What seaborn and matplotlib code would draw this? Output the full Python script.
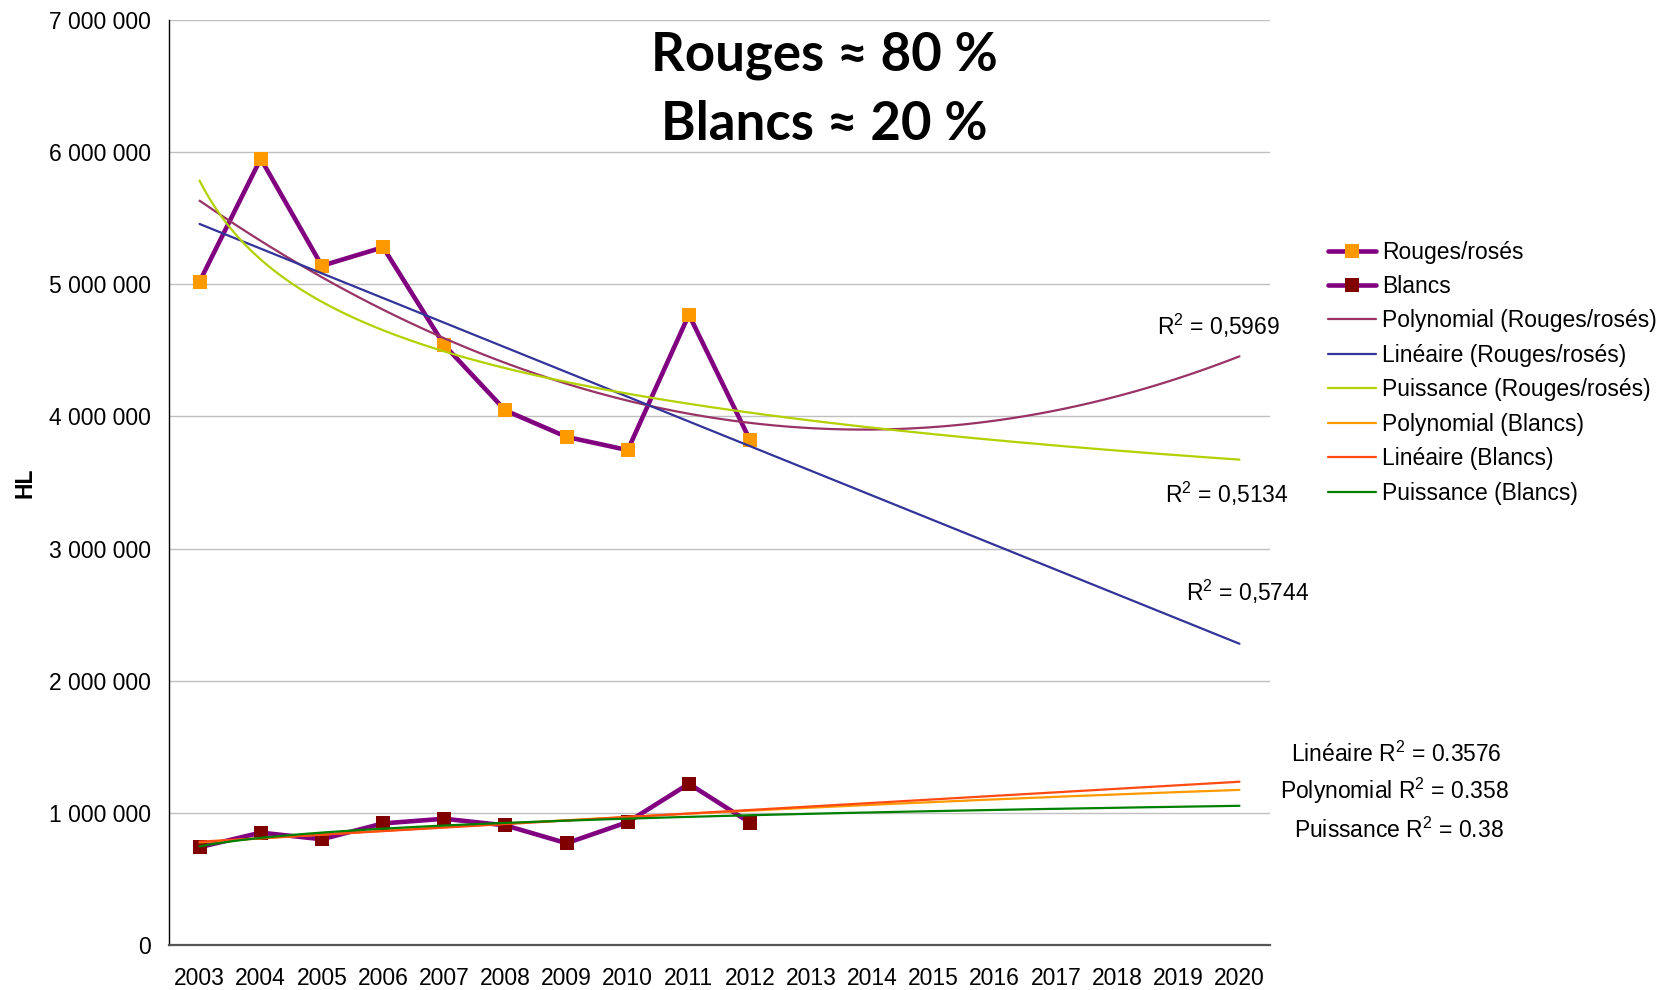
import numpy as np
import pandas as pd
import seaborn as sns
import matplotlib.pyplot as plt
from matplotlib.ticker import FixedLocator, FuncFormatter

# ---------- DATA ----------
years = [str(y) for y in range(2003, 2021)]
obs_years = years[:10]
rouges = [5020000, 5950000, 5140000, 5280000, 4540000, 4045000, 3845000, 3745000, 4770000, 3820000]
blancs = [740000, 850000, 800000, 920000, 955000, 905000, 770000, 930000, 1220000, 925000]
y_ticks = [0, 1000000, 2000000, 3000000, 4000000, 5000000, 6000000, 7000000]

title_lines = ["Rouges \u2248 80 %", "Blancs \u2248 20 %"]
r2_rouges = ["R$^2$ = 0,5969", "R$^2$ = 0,5134", "R$^2$ = 0,5744"]
r2_blancs = ["Lin\u00e9aire R$^2$ = 0.3576", "Polynomial R$^2$ = 0.358", "Puissance R$^2$ = 0.38"]

# ---------- STYLE ----------
sns.set_style("white")
plt.rcParams["font.family"] = ["Liberation Sans", "DejaVu Sans"]
plt.rcParams["mathtext.fontset"] = "custom"
plt.rcParams["mathtext.rm"] = "Liberation Sans"
plt.rcParams["mathtext.default"] = "regular"
for k in ["text.color", "axes.labelcolor", "xtick.color", "ytick.color"]:
    plt.rcParams[k] = "black"
FS = 16.5

# ---------- TRENDLINES (Excel style, x = 1..n) ----------
x_obs = np.arange(1, len(obs_years) + 1)
x_fine = np.linspace(1, len(years), 300)


def trends(y):
    y = np.asarray(y, dtype=float)
    lin = np.polyval(np.polyfit(x_obs, y, 1), x_fine)
    poly = np.polyval(np.polyfit(x_obs, y, 2), x_fine)
    b, ln_a = np.polyfit(np.log(x_obs), np.log(y), 1)
    power = np.exp(ln_a) * x_fine ** b
    return poly, lin, power


poly_r, lin_r, pow_r = trends(rouges)
poly_b, lin_b, pow_b = trends(blancs)

# ---------- PLOT ----------
fig = plt.figure(figsize=(16.63, 9.90), dpi=100)
ax = fig.add_axes([0.1016, 0.0455, 0.6621, 0.9343])

idx = np.arange(len(obs_years))
sns.lineplot(x=idx, y=rouges, ax=ax, color="#800080", lw=3.3, marker="s", markersize=10.5,
             markerfacecolor="#FF9900", markeredgewidth=0, label="Rouges/ros\u00e9s", zorder=3)
sns.lineplot(x=idx, y=blancs, ax=ax, color="#800080", lw=3.3, marker="s", markersize=10.5,
             markerfacecolor="#800000", markeredgewidth=0, label="Blancs", zorder=3)

trend_specs = [
    (poly_r, "#993366", "Polynomial (Rouges/ros\u00e9s)"),
    (lin_r, "#333399", "Lin\u00e9aire (Rouges/ros\u00e9s)"),
    (pow_r, "#B3D100", "Puissance (Rouges/ros\u00e9s)"),
    (poly_b, "#FF9900", "Polynomial (Blancs)"),
    (lin_b, "#FF4A12", "Lin\u00e9aire (Blancs)"),
    (pow_b, "#008000", "Puissance (Blancs)"),
]
for vals, col, lab in trend_specs:
    sns.lineplot(x=x_fine - 1, y=vals, ax=ax, color=col, lw=1.6, label=lab, zorder=4)

# axes
ax.set_xlim(-0.5, len(years) - 0.5)
ax.set_ylim(0, 7000000)
ax.xaxis.set_major_locator(FixedLocator(np.arange(-0.5, len(years), 1.0)))
ax.xaxis.set_major_formatter(FuncFormatter(lambda v, p: ""))
ax.xaxis.set_minor_locator(FixedLocator(np.arange(len(years))))
ax.set_xticklabels(years, minor=True)
ax.tick_params(axis="x", which="major", direction="inout", length=12, width=1, color="black")
ax.tick_params(axis="x", which="minor", length=0, pad=16, labelsize=FS)

ax.set_yticks(y_ticks)
ax.yaxis.set_major_formatter(FuncFormatter(lambda v, p: f"{int(v):,}".replace(",", " ")))
ax.tick_params(axis="y", direction="inout", length=14, width=1, color="black", pad=6, labelsize=FS)
ax.grid(axis="y", color="#C0C0C0", lw=1)
ax.set_axisbelow(True)

for s in ["top", "right"]:
    ax.spines[s].set_visible(False)
ax.spines["left"].set_color("black")
ax.spines["left"].set_linewidth(1)
ax.spines["bottom"].set_color("#555555")
ax.spines["bottom"].set_linewidth(1.6)

ax.set_xlabel("")
ax.set_ylabel("HL", fontsize=FS, fontweight="bold")
ax.yaxis.set_label_coords(-0.120, 0.5)

# legend
handles, labels = ax.get_legend_handles_labels()
ax.get_legend().remove()
fig.legend(handles, labels, loc="upper left", bbox_to_anchor=(0.7986, 0.757),
           frameon=False, fontsize=FS, handlelength=2.1, handletextpad=0.25,
           labelspacing=0.5, borderpad=0, borderaxespad=0)

# R² annotations
r2_pos_rouges = [(16.65, 4687000), (16.79, 3411000), (17.14, 2673000)]
for (xp, yp), txt in zip(r2_pos_rouges, r2_rouges):
    ax.text(xp, yp, txt, ha="center", va="center", fontsize=FS, clip_on=False)
r2_pos_blancs = [(19.57, 1445000), (19.53, 1164000), (19.60, 867000)]
for (xp, yp), txt in zip(r2_pos_blancs, r2_blancs):
    ax.text(xp, yp, txt, ha="center", va="center", fontsize=FS, clip_on=False)

# title block
for yy, txt in zip([0.944, 0.874], title_lines):
    fig.text(0.4955, yy, txt, ha="center", va="center", fontsize=38,
             fontweight="bold", family=["Lato", "DejaVu Sans"])

plt.savefig("out.png", dpi=100)
